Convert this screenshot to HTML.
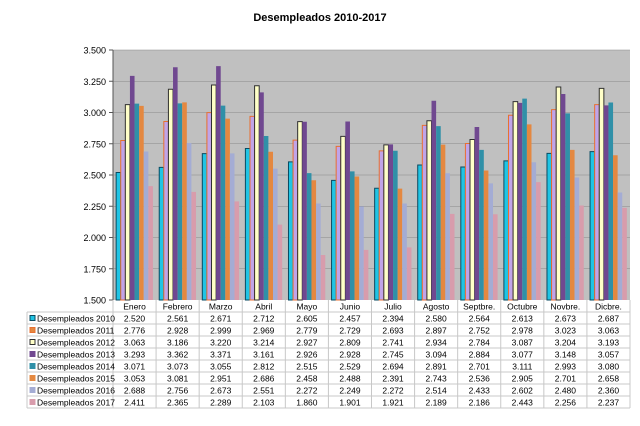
<!DOCTYPE html>
<html><head><meta charset="utf-8"><style>
html,body{margin:0;padding:0;background:#fff;width:640px;height:426px;overflow:hidden}
svg{display:block;font-family:"Liberation Sans",Arial,sans-serif}
</style></head><body>
<svg id="s" width="640" height="426" xmlns="http://www.w3.org/2000/svg"></svg>
<script>
const months=["Enero","Febrero","Marzo","Abril","Mayo","Junio","Julio","Agosto","Septbre.","Octubre","Novbre.","Dicbre."];
const data=[
[2520,2561,2671,2712,2605,2457,2394,2580,2564,2613,2673,2687],
[2776,2928,2999,2969,2779,2729,2693,2897,2752,2978,3023,3063],
[3063,3186,3220,3214,2927,2809,2741,2934,2784,3087,3204,3193],
[3293,3362,3371,3161,2926,2928,2745,3094,2884,3077,3148,3057],
[3071,3073,3055,2812,2515,2529,2694,2891,2701,3111,2993,3080],
[3053,3081,2951,2686,2458,2488,2391,2743,2536,2905,2701,2658],
[2688,2756,2673,2551,2272,2249,2272,2514,2433,2602,2480,2360],
[2411,2365,2289,2103,1860,1901,1921,2189,2186,2443,2256,2237]];
const fill=["#20c4e4","#c0a4e8","#ffffc8","#704890","#3090a8","#e48840","#a4acd4","#d89cac"];
const strk=["#0a4a60","#e87030","#303030",null,null,null,null,null];
const L=113,R=630,T=50,B=300,cw=(R-L)/12;
const y=v=>B-(v-1500)/2000*(B-T);
let h='';
h+=`<text x="320" y="21" font-size="11" font-weight="bold" text-anchor="middle">Desempleados 2010-2017</text>`;
h+=`<rect x="${L}" y="${T}" width="${R-L}" height="${B-T}" fill="#c0c0c0"/>`;
for(let i=0;i<=8;i++){const v=1500+i*250,yy=y(v);
 if(i>0)h+=`<line x1="${L}" x2="${R}" y1="${yy}" y2="${yy}" stroke="#8a8a8a" stroke-width="0.6"/>`;
 h+=`<line x1="${L-4}" x2="${L}" y1="${yy}" y2="${yy}" stroke="#555"/>`;
 h+=`<text x="${L-7}" y="${yy+3.5}" font-size="9" text-anchor="end">${(v/1000).toFixed(3).replace('.',',').replace(',', '.')}</text>`;}
const bw=4.6;
for(let m=0;m<12;m++){const x0=L+m*cw+(cw-8*bw)/2;
 for(let s=0;s<8;s++){const yy=y(data[s][m]);
  h+=`<rect x="${x0+s*bw}" y="${yy}" width="${bw}" height="${B-yy}" fill="${fill[s]}"${strk[s]?` stroke="${strk[s]}" stroke-width="1"`:''}/>`;}}
h+=`<line x1="${L}" x2="${L}" y1="${T}" y2="${B}" stroke="#555"/>`;
// table
const rh=12,tb=B+rh*9;
h+=`<g stroke="#c8c8c8" stroke-width="1">`;
for(let r=1;r<=9;r++){const yy=B+r*rh;h+=`<line x1="${r==9?27:27}" x2="${R}" y1="${yy}" y2="${yy}"/>`;}
h+=`<line x1="27" x2="27" y1="${B+rh}" y2="${tb}"/>`;
for(let c=0;c<=12;c++){const xx=L+c*cw;h+=`<line x1="${xx}" x2="${xx}" y1="${B}" y2="${tb}"/>`;}
h+=`</g>`;
for(let m=0;m<12;m++)h+=`<text x="${L+(m+.5)*cw}" y="${B+9.5}" font-size="8.5" text-anchor="middle">${months[m]}</text>`;
for(let s=0;s<8;s++){const yy=B+(s+1)*rh;
 h+=`<rect x="30" y="${yy+3.5}" width="5" height="5" fill="${fill[s]==='#c0a4e8'?'#e48840':fill[s]}" stroke="${strk[s]||fill[s]}" stroke-width="1"/>`;
 h+=`<text x="37" y="${yy+9.5}" font-size="8.5">Desempleados ${2010+s}</text>`;
 for(let m=0;m<12;m++){const v=data[s][m];h+=`<text x="${L+(m+.5)*cw}" y="${yy+9.5}" font-size="8.5" text-anchor="middle">${Math.floor(v/1000)}.${String(v%1000).padStart(3,'0')}</text>`;}}
document.getElementById('s').innerHTML=h;
</script>
</body></html>
